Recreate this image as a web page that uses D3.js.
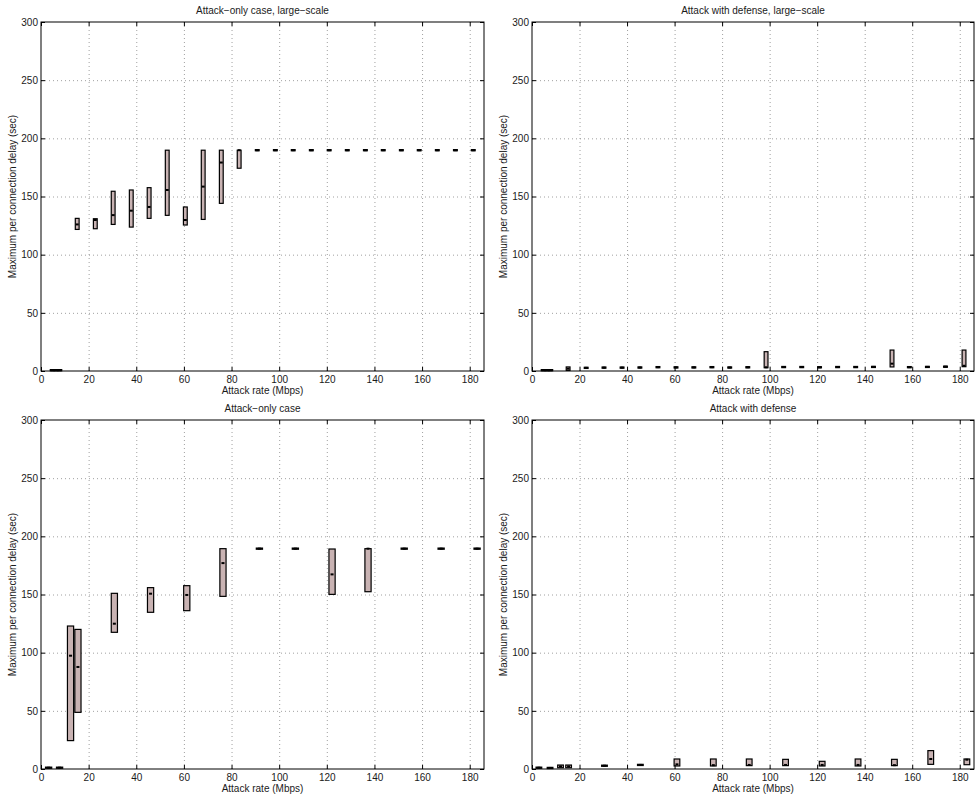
<!DOCTYPE html>
<html>
<head>
<meta charset="utf-8">
<script src="https://cdn.jsdelivr.net/npm/d3@7"></script>
<style>
  html, body { margin: 0; padding: 0; background: #fff; }
  svg { display: block; font-family: "Liberation Sans", Arial, Helvetica, sans-serif; }
</style>
</head>
<body>
<svg id="chart" width="975" height="803"></svg>
<script>
// ---------- DATA ----------
const xTicks = [0, 20, 40, 60, 80, 100, 120, 140, 160, 180];
const yTicks = [0, 50, 100, 150, 200, 250, 300];
const xLabel = "Attack rate (Mbps)";
const yLabel = "Maximum per connection delay (sec)";
const titles = ["Attack\u2212only case, large\u2212scale", "Attack with defense, large\u2212scale",
                "Attack\u2212only case", "Attack with defense"];

// Panel 1: attack-only, large-scale
const p1X    = [4.7, 6.3, 7.9, 15.2, 22.8, 30.3, 37.9, 45.4, 53.0, 60.6, 68.1, 75.7, 83.2, 90.8, 98.4, 105.9, 113.5, 121.0, 128.6, 136.2, 143.7, 151.3, 158.8, 166.4, 174.0, 181.5];
const p1Low  = [0.2, 0.2, 0.2, 121.7, 122.3, 126.0, 123.7, 131.2, 133.8, 125.5, 130.3, 144.1, 174.3, 189.3, 189.3, 189.3, 189.3, 189.3, 189.3, 189.3, 189.3, 189.3, 189.3, 189.3, 189.3, 189.3];
const p1High = [1.2, 1.2, 1.2, 131.2, 130.9, 154.5, 155.6, 157.6, 189.8, 141.0, 189.8, 189.8, 189.8, 190.3, 190.3, 190.3, 190.3, 190.3, 190.3, 190.3, 190.3, 190.3, 190.3, 190.3, 190.3, 190.3];
const p1Med  = [0.7, 0.7, 0.7, 126.0, 129.8, 134.0, 137.8, 141.0, 155.6, 129.8, 158.5, 179.2, 189.8, 189.8, 189.8, 189.8, 189.8, 189.8, 189.8, 189.8, 189.8, 189.8, 189.8, 189.8, 189.8, 189.8];

// Panel 2: attack with defense, large-scale
const p2X    = [4.7, 6.3, 7.9, 15.2, 22.8, 30.3, 37.9, 45.4, 53.0, 60.6, 68.1, 75.7, 83.2, 90.8, 98.5, 105.9, 113.5, 121.0, 128.6, 136.2, 143.7, 151.5, 158.8, 166.4, 174.0, 181.8];
const p2Low  = [0.2, 0.2, 0.2, 0.5, 2.2, 2.4, 2.4, 2.5, 2.8, 2.6, 2.6, 2.8, 2.5, 2.7, 2.8, 2.9, 2.9, 2.7, 2.9, 2.9, 3.0, 3.5, 2.8, 3.0, 3.2, 3.7];
const p2High = [1.2, 1.2, 1.2, 3.5, 3.2, 3.4, 3.4, 3.5, 3.8, 3.6, 3.6, 3.8, 3.5, 3.7, 16.6, 3.9, 3.9, 3.7, 3.9, 3.9, 4.0, 18.0, 3.8, 4.0, 4.2, 18.0];
const p2Med  = [0.7, 0.7, 0.7, 2.0, 2.7, 2.9, 2.9, 3.0, 3.3, 3.1, 3.1, 3.3, 3.0, 3.2, 3.2, 3.4, 3.4, 3.2, 3.4, 3.4, 3.5, 6.3, 3.3, 3.5, 3.7, 4.5];

// Panel 3: attack-only
const p3X    = [3.2, 7.8, 12.4, 15.5, 30.8, 46.0, 61.2, 76.4, 91.7, 106.8, 122.2, 137.3, 152.5, 168.0, 183.1];
const p3Low  = [0.6, 0.6, 24.4, 48.7, 117.5, 134.7, 136.1, 148.4, 188.9, 188.9, 150.1, 152.4, 188.9, 188.9, 188.9];
const p3High = [1.6, 1.6, 122.9, 120.0, 151.0, 155.9, 157.6, 189.4, 189.9, 189.9, 189.1, 189.4, 189.9, 189.9, 189.9];
const p3Med  = [1.1, 1.1, 97.4, 87.7, 124.9, 150.7, 149.6, 177.0, 189.4, 189.4, 167.3, 189.4, 189.4, 189.4, 189.4];

// Panel 4: attack with defense
const p4X    = [2.9, 7.6, 12.0, 15.4, 30.5, 45.6, 61.0, 76.3, 91.4, 106.7, 122.1, 137.2, 152.5, 167.8, 183.0];
const p4Low  = [0.6, 0.4, 1.1, 1.1, 2.3, 3.0, 2.6, 2.6, 2.9, 2.9, 2.6, 2.6, 2.9, 4.0, 3.7];
const p4High = [1.6, 1.4, 3.4, 3.4, 3.3, 4.0, 8.6, 8.6, 8.6, 8.3, 6.6, 8.6, 8.3, 15.8, 8.6];
const p4Med  = [1.1, 0.9, 2.2, 2.2, 2.8, 3.5, 4.0, 3.3, 3.5, 3.5, 3.5, 3.5, 3.3, 8.6, 8.0];

// ---------- LAYOUT ----------
const panels = [
  {title: titles[0], xs: p1X, lo: p1Low, hi: p1High, md: p1Med, left: 41,  right: 484, top: 22,  bottom: 371, bw: 1.6},
  {title: titles[1], xs: p2X, lo: p2Low, hi: p2High, md: p2Med, left: 532, right: 974, top: 22,  bottom: 371, bw: 1.6},
  {title: titles[2], xs: p3X, lo: p3Low, hi: p3High, md: p3Med, left: 41,  right: 484, top: 420, bottom: 769, bw: 2.6},
  {title: titles[3], xs: p4X, lo: p4Low, hi: p4High, md: p4Med, left: 532, right: 974, top: 420, bottom: 769, bw: 2.4}
];

const svg = d3.select("#chart");
const fill = "#c9b3b3";
const textColor = "#1a1a1a";

panels.forEach(p => {
  const x = d3.scaleLinear().domain([0, 186]).range([p.left, p.right]);
  const y = d3.scaleLinear().domain([0, 300]).range([p.bottom, p.top]);
  const g = svg.append("g");
  const W = p.right - p.left, H = p.bottom - p.top;

  // grid
  g.append("g").attr("transform", `translate(0,${p.bottom})`)
    .call(d3.axisBottom(x).tickValues(xTicks.filter(v => v > 0)).tickSize(-H).tickFormat(""))
    .call(s => s.select(".domain").remove())
    .selectAll("line").attr("stroke", "#888").attr("stroke-width", 0.8).attr("stroke-dasharray", "1,3");
  g.append("g").attr("transform", `translate(${p.left},0)`)
    .call(d3.axisLeft(y).tickValues(yTicks.filter(v => v > 0 && v < 300)).tickSize(-W).tickFormat(""))
    .call(s => s.select(".domain").remove())
    .selectAll("line").attr("stroke", "#888").attr("stroke-width", 0.8).attr("stroke-dasharray", "1,3");

  // boxes
  const items = p.xs.map((v, i) => ({x: v, lo: p.lo[i], hi: p.hi[i], md: p.md[i]}));
  const bwPx = x(p.bw) - x(0);
  g.selectAll("rect.box").data(items).join("rect").attr("class", "box")
    .attr("x", d => x(d.x) - bwPx / 2)
    .attr("width", bwPx)
    .attr("y", d => y(d.hi))
    .attr("height", d => Math.max(1, y(d.lo) - y(d.hi)))
    .attr("fill", fill).attr("stroke", "#000").attr("stroke-width", 1.2);
  g.selectAll("rect.med").data(items).join("rect").attr("class", "med")
    .attr("x", d => x(d.x) - 1.5)
    .attr("width", 3)
    .attr("y", d => y(d.md) - 1)
    .attr("height", 2)
    .attr("fill", "#000");

  // frame
  g.append("rect").attr("x", p.left).attr("y", p.top).attr("width", W).attr("height", H)
    .attr("fill", "none").attr("stroke", "#000").attr("stroke-width", 1);

  const styleAxis = s => {
    s.select(".domain").remove();
    s.selectAll("line").attr("stroke", "#000");
    s.selectAll("text").attr("fill", textColor).attr("font-size", 10)
      .attr("font-family", "'Liberation Sans', Arial, Helvetica, sans-serif");
  };
  // axes with inward ticks
  g.append("g").attr("transform", `translate(0,${p.bottom})`)
    .call(d3.axisBottom(x).tickValues(xTicks).tickSizeInner(-4).tickSizeOuter(0).tickPadding(5).tickFormat(d3.format("d")))
    .call(styleAxis);
  g.append("g").attr("transform", `translate(0,${p.top})`)
    .call(d3.axisTop(x).tickValues(xTicks).tickSizeInner(-4).tickSizeOuter(0).tickFormat(""))
    .call(styleAxis);
  g.append("g").attr("transform", `translate(${p.left},0)`)
    .call(d3.axisLeft(y).tickValues(yTicks).tickSizeInner(-4).tickSizeOuter(0).tickPadding(3).tickFormat(d3.format("d")))
    .call(styleAxis);
  g.append("g").attr("transform", `translate(${p.right},0)`)
    .call(d3.axisRight(y).tickValues(yTicks).tickSizeInner(-4).tickSizeOuter(0).tickFormat(""))
    .call(styleAxis);

  // labels
  g.append("text").attr("x", (p.left + p.right) / 2).attr("y", p.top - 8)
    .attr("text-anchor", "middle").attr("font-size", 10).attr("fill", textColor).text(p.title);
  g.append("text").attr("x", (p.left + p.right) / 2).attr("y", p.bottom + 23)
    .attr("text-anchor", "middle").attr("font-size", 10).attr("fill", textColor).text(xLabel);
  g.append("text").attr("transform", `translate(${p.left - 25},${(p.top + p.bottom) / 2}) rotate(-90)`)
    .attr("text-anchor", "middle").attr("font-size", 10).attr("fill", textColor).text(yLabel);
});
</script>
</body>
</html>
